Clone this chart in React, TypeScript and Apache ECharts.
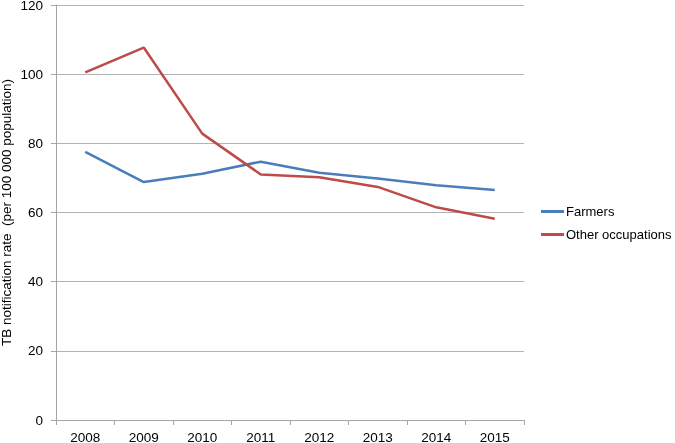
import React, { useEffect, useRef } from "react";
import * as echarts from "echarts";

const years = ["2008", "2009", "2010", "2011", "2012", "2013", "2014", "2015"];
const farmers = [77.5, 68.8, 71.2, 74.7, 71.5, 69.8, 67.9, 66.5];
const otherOccupations = [100.5, 107.7, 82.8, 71.0, 70.2, 67.4, 61.5, 58.2];

export default function App() {
  const ref = useRef<HTMLDivElement>(null);
  useEffect(() => {
    const chart = echarts.init(ref.current!, null, { renderer: "svg" });
    const font = "Liberation Sans, Arial, sans-serif";
    chart.setOption({
      animation: false,
      textStyle: { fontFamily: font },
      grid: {
        left: 56,
        top: 5,
        right: 151,
        bottom: 23,
        containLabel: false,
        outerBoundsMode: "none",
      },
      legend: {
        orient: "vertical",
        left: 536,
        top: 200,
        padding: 5,
        itemWidth: 23,
        itemHeight: 3,
        itemGap: 10,
        icon: "rect",
        textStyle: { fontSize: 13, color: "#000", fontFamily: font, padding: [0, 0, 0, -3] },
        data: ["Farmers", "Other occupations"],
      },
      xAxis: {
        type: "category",
        data: years,
        boundaryGap: true,
        axisLine: { lineStyle: { color: "#a6a6a6", width: 1 } },
        axisTick: { show: true, alignWithLabel: false, length: 5, lineStyle: { color: "#a6a6a6" } },
        axisLabel: { color: "#000", fontSize: 13.5, margin: 10, fontFamily: font },
      },
      yAxis: {
        type: "value",
        min: 0,
        max: 120,
        interval: 20,
        name: "TB notification rate  (per 100 000 population)",
        nameLocation: "middle",
        nameGap: 43,
        nameMoveOverlap: false,
        nameRotate: 90,
        nameTextStyle: { color: "#000", fontSize: 13.5, fontFamily: font },
        axisLine: { show: true, lineStyle: { color: "#a6a6a6", width: 1 } },
        axisTick: { show: true, length: 5, lineStyle: { color: "#a6a6a6" } },
        axisLabel: { color: "#000", fontSize: 13.5, margin: 13, fontFamily: font },
        splitLine: { lineStyle: { color: "#b3b3b3", width: 1 } },
      },
      series: [
        {
          name: "Farmers",
          type: "line",
          data: farmers,
          symbol: "none",
          lineStyle: { color: "#4a7ebb", width: 2.5 },
          itemStyle: { color: "#4a7ebb" },
        },
        {
          name: "Other occupations",
          type: "line",
          data: otherOccupations,
          symbol: "none",
          lineStyle: { color: "#be4b48", width: 2.5 },
          itemStyle: { color: "#be4b48" },
        },
      ],
    });
    return () => chart.dispose();
  }, []);
  return (
    <div
      ref={ref}
      style={{ position: "fixed", left: 0, top: 0, width: 675, height: 443 }}
    />
  );
}
